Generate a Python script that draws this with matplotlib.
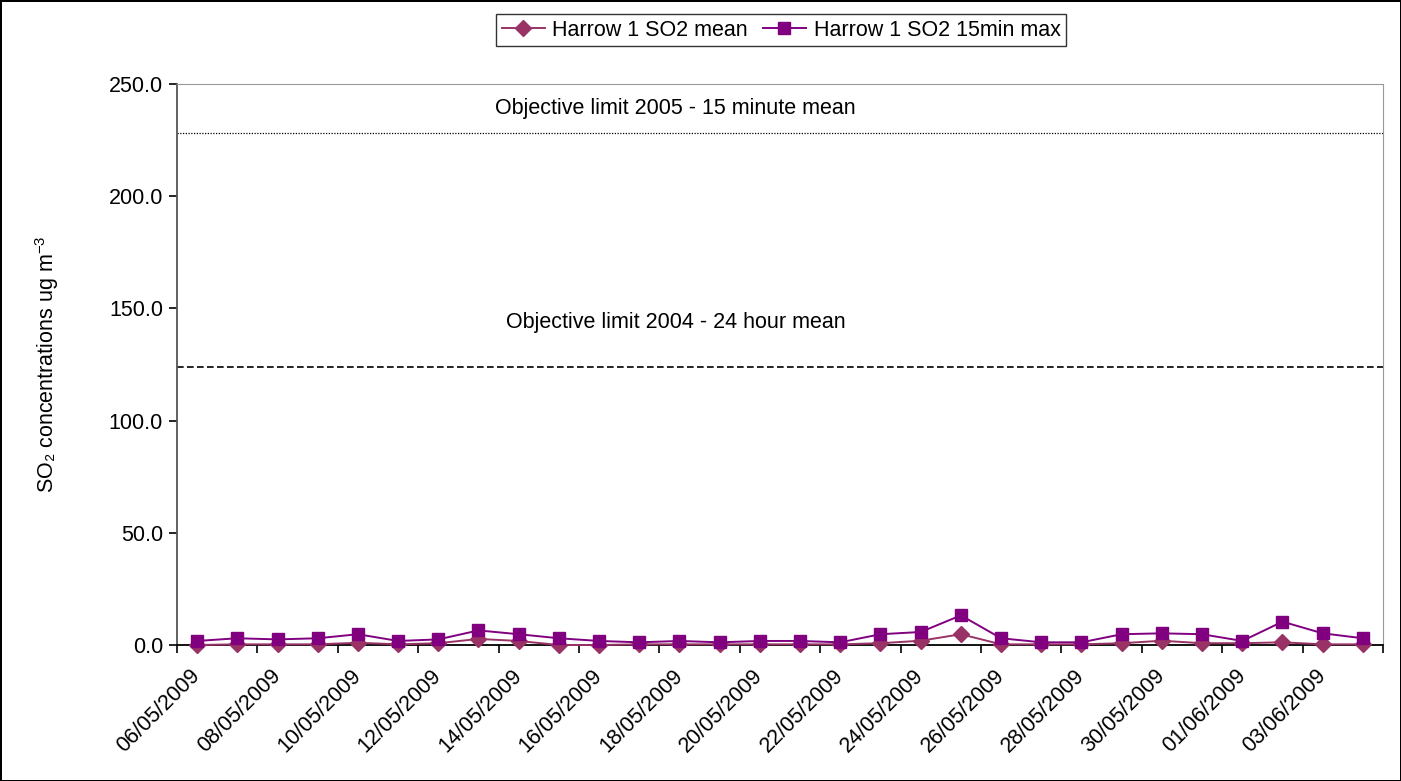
import matplotlib.pyplot as plt
from matplotlib.ticker import FixedLocator, NullFormatter

plt.rcParams['font.family'] = ['Liberation Sans', 'DejaVu Sans']
plt.rcParams['mathtext.default'] = 'regular'

# data
dates = ['06/05/2009', '07/05/2009', '08/05/2009', '09/05/2009', '10/05/2009',
         '11/05/2009', '12/05/2009', '13/05/2009', '14/05/2009', '15/05/2009',
         '16/05/2009', '17/05/2009', '18/05/2009', '19/05/2009', '20/05/2009',
         '21/05/2009', '22/05/2009', '23/05/2009', '24/05/2009', '25/05/2009',
         '26/05/2009', '27/05/2009', '28/05/2009', '29/05/2009', '30/05/2009',
         '31/05/2009', '01/06/2009', '02/06/2009', '03/06/2009', '04/06/2009']
so2_mean = [0.0, 0.3, 0.3, 0.3, 1.0, 0.3, 0.8, 2.7, 1.8, 0.0,
            0.0, 0.3, 0.3, 0.3, 0.3, 0.3, 0.3, 0.8, 1.9, 4.8,
            0.3, 0.3, 0.3, 0.8, 1.9, 0.8, 0.8, 1.2, 0.3, 0.3]
so2_max = [1.8, 3.0, 2.5, 3.0, 4.8, 1.8, 2.5, 6.5, 4.8, 3.0,
           1.8, 1.2, 1.8, 1.2, 1.8, 1.8, 1.2, 4.8, 5.8, 13.2,
           3.0, 1.2, 1.2, 4.8, 5.2, 4.8, 1.8, 10.4, 5.2, 3.0]
limit_15min = 228.0
limit_24h = 124.0

FS = 15.5
x = list(range(len(dates)))

fig = plt.figure(figsize=(14.01, 7.81), dpi=100)
fig.patch.set_edgecolor('black')
fig.patch.set_linewidth(2)
ax = fig.add_axes([177 / 1401, 1 - 645 / 781, (1383 - 177) / 1401, (645 - 84) / 781])

ax.axhline(limit_15min, color='black', lw=0.9, ls=(0, (1, 1.2)))
ax.axhline(limit_24h, color='black', lw=1.2, ls=(0, (4, 2)))
ax.text(11.9, 239, 'Objective limit 2005 - 15 minute mean', ha='center', va='center', fontsize=FS)
ax.text(11.9, 143.5, 'Objective limit 2004 - 24 hour mean', ha='center', va='center', fontsize=FS)

ax.plot(x, so2_mean, color='#993366', marker='D', markersize=8.5, lw=1.4,
        label='Harrow 1 SO2 mean', clip_on=False, zorder=3)
ax.plot(x, so2_max, color='#800080', marker='s', markersize=8.5, lw=1.4,
        label='Harrow 1 SO2 15min max', clip_on=False, zorder=4)

ax.set_xlim(-0.5, len(dates) - 0.5)
ax.set_ylim(0, 250)
ax.set_yticks([0, 50, 100, 150, 200, 250])
ax.set_yticklabels(['%.1f' % v for v in [0, 50, 100, 150, 200, 250]], fontsize=FS)

ax.xaxis.set_major_locator(FixedLocator([i - 0.5 for i in range(0, len(dates) + 1, 2)]))
ax.xaxis.set_major_formatter(NullFormatter())
ax.set_xticks(x[::2], minor=True)
ax.set_xticklabels(dates[::2], minor=True, rotation=45, ha='right', va='center',
                   rotation_mode='anchor', fontsize=FS)
ax.tick_params(axis='x', which='minor', length=0, pad=20)
ax.tick_params(axis='x', which='major', length=6, width=1.2, direction='out')
ax.tick_params(axis='y', length=6, width=1.2, direction='out', pad=4)

ax.spines['top'].set_color('#999999')
ax.spines['right'].set_color('#999999')
ax.spines['left'].set_color('#555555')
ax.spines['left'].set_linewidth(1.3)
ax.spines['bottom'].set_color('black')
ax.spines['bottom'].set_linewidth(1.3)

ax.set_ylabel('SO\u2082 concentrations ug m$^{-3}$', fontsize=FS)
ax.yaxis.set_label_coords(-(177 - 61) / 1206, 0.5)

leg = fig.legend(loc='center', bbox_to_anchor=(781 / 1401, 1 - 30 / 781), ncol=2,
                 fontsize=FS, frameon=True, fancybox=False, edgecolor='black',
                 handlelength=2.0, columnspacing=0.7, handletextpad=0.35,
                 borderpad=0.25, borderaxespad=0)
leg.get_frame().set_linewidth(1.0)

fig.savefig('out.png', dpi=100)
